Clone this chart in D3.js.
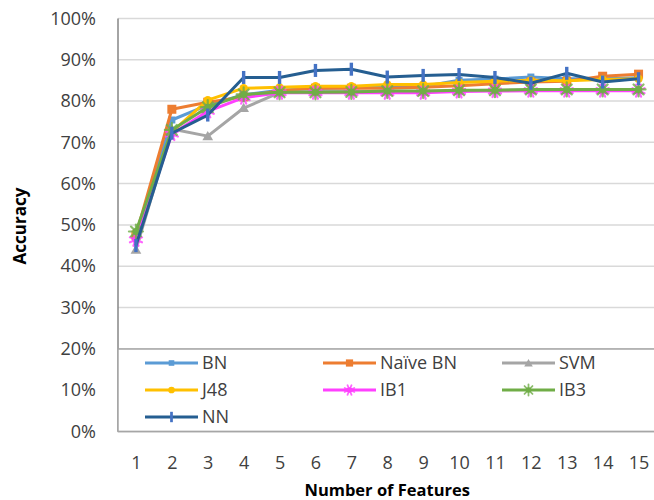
<!DOCTYPE html>
<html><head><meta charset="utf-8">
<script src="https://cdn.jsdelivr.net/npm/d3@7"></script>
<style>
body{margin:0;background:#fff;}
svg{display:block;font-family:"Open Sans",Lato,sans-serif;}
</style></head>
<body><svg id="c" width="654" height="500"></svg>
<script>
const features = [1,2,3,4,5,6,7,8,9,10,11,12,13,14,15];
const yTicks = [0,0.1,0.2,0.3,0.4,0.5,0.6,0.7,0.8,0.9,1.0];
const seriesNames = ["BN","Naïve BN","SVM","J48","IB1","IB3","NN"];
const BN    = [47.0,75.4,79.0,81.5,82.6,83.0,83.2,83.3,83.5,85.0,85.3,85.8,85.4,85.4,85.6];
const NaiveBN=[47.5,78.0,79.7,81.0,82.5,83.1,83.1,83.1,83.3,83.7,84.2,84.6,84.8,86.0,86.5];
const SVM   = [44.0,73.2,71.5,78.3,82.0,82.3,82.3,82.3,82.3,82.5,82.6,82.7,82.7,82.7,82.7];
const J48   = [48.0,72.5,80.2,83.1,83.3,83.6,83.6,84.0,84.0,84.5,84.8,85.0,84.9,85.2,85.4];
const IB1   = [46.4,72.0,77.5,80.8,82.0,82.0,82.0,82.0,82.0,82.3,82.4,82.5,82.5,82.5,82.5];
const IB3   = [48.4,73.0,78.5,81.6,82.1,82.1,82.2,82.4,82.4,82.6,82.6,82.8,82.8,82.8,82.8];
const NN    = [45.0,72.2,76.6,85.7,85.7,87.4,87.7,85.8,86.2,86.4,85.7,84.3,86.7,84.6,85.4];
const values = [BN,NaiveBN,SVM,J48,IB1,IB3,NN];
const colors = ["#5B9BD5","#ED7D31","#A5A5A5","#FFC000","#FF40FF","#70AD47","#255E91"];
const markerColors = ["#5B9BD5","#ED7D31","#A5A5A5","#FFC000","#FF40FF","#70AD47","#4472C4"];
const markers = ["sq","bigsq","tri","dia","x","star","bar"];

const svg = d3.select("#c");
const L=118, R=656.5, T=18.4, B=431.4;
const x = d3.scalePoint().domain(features).range([L,R]).padding(0.5);
const y = d3.scaleLinear().domain([0,1]).range([B,T]);

svg.append("g").selectAll("line").data(yTicks.filter(d=>d>0)).join("line")
  .attr("x1",L).attr("x2",R).attr("y1",d=>y(d)).attr("y2",d=>y(d))
  .attr("stroke","#D9D9D9").attr("stroke-width",1.5);

const ya = svg.append("g").attr("transform",`translate(${L-22},0)`)
  .call(d3.axisLeft(y).tickValues(yTicks).tickFormat(d3.format(".0%")).tickSize(0).tickPadding(0));
ya.select(".domain").remove();
ya.selectAll("text").attr("font-size",18).attr("fill","#404040").attr("font-family","'Open Sans',sans-serif");

const xa = svg.append("g").attr("transform",`translate(0,${B})`)
  .call(d3.axisBottom(x).tickSize(0).tickPadding(25));
xa.select(".domain").remove();
xa.selectAll("text").attr("font-size",18).attr("fill","#404040").attr("font-family","'Open Sans',sans-serif");

svg.append("line").attr("x1",L).attr("x2",L).attr("y1",T).attr("y2",B).attr("stroke","#868686").attr("stroke-width",1.5);
svg.append("line").attr("x1",L).attr("x2",R).attr("y1",B).attr("y2",B).attr("stroke","#868686").attr("stroke-width",1.5);

function drawMarker(g, type, cx, cy, col, scale){
  const s = scale||1;
  if(type==="sq"){g.append("rect").attr("x",cx-3.5*s).attr("y",cy-3.5*s).attr("width",7*s).attr("height",7*s).attr("fill",col);}
  else if(type==="bigsq"){g.append("rect").attr("x",cx-4.5*s).attr("y",cy-4.5*s).attr("width",9*s).attr("height",9*s).attr("fill",col);}
  else if(type==="tri"){g.append("path").attr("d",d3.symbol(d3.symbolTriangle, 50*s*s)()).attr("transform",`translate(${cx},${cy+1})`).attr("fill",col);}
  else if(type==="dia"){g.append("path").attr("d",d3.symbol(d3.symbolCircle, 55*s*s)()).attr("transform",`translate(${cx},${cy})`).attr("fill",col);}
  else if(type==="x"||type==="star"){
    const r = (type==="star"?7:6.5)*s;
    const n = 8;
    for(let k=0;k<n;k++){
      const a = Math.PI*k/n*2 + (type==="x"?Math.PI/8:0);
      g.append("line").attr("x1",cx).attr("y1",cy).attr("x2",cx+r*Math.cos(a)).attr("y2",cy+r*Math.sin(a))
       .attr("stroke",col).attr("stroke-width",2.2*s).attr("stroke-linecap","round").attr("opacity",0.8);
    }
    g.append("circle").attr("cx",cx).attr("cy",cy).attr("r",3.5*s).attr("fill",col);
  }
  else if(type==="bar"){g.append("rect").attr("x",cx-1.7*s).attr("y",cy-6.5*s).attr("width",3.4*s).attr("height",13*s).attr("fill",col);}
}

const line = d3.line().x((d,i)=>x(features[i])).y(d=>y(d/100));
seriesNames.forEach((name,si)=>{
  const g = svg.append("g");
  g.append("path").datum(values[si]).attr("d",line).attr("fill","none")
   .attr("stroke",colors[si]).attr("stroke-width",3).attr("stroke-linejoin","round");
  values[si].forEach((v,i)=>drawMarker(g, markers[si], x(features[i]), y(v/100), markerColors[si], 1));
});

const lg = svg.append("g");
lg.append("rect").attr("x",L).attr("y",349).attr("width",560).attr("height",B-349)
  .attr("fill","#fff").attr("stroke","#A6A6A6").attr("stroke-width",1.5);
const colX=[145,323,502], rowY=[363,390,417];
seriesNames.forEach((name,si)=>{
  const cx = colX[si%3], cy=rowY[Math.floor(si/3)];
  lg.append("line").attr("x1",cx).attr("x2",cx+53).attr("y1",cy).attr("y2",cy)
    .attr("stroke",colors[si]).attr("stroke-width",3);
  drawMarker(lg, markers[si], cx+26.5, cy, markerColors[si], 0.8);
  lg.append("text").attr("x",cx+57).attr("y",cy).attr("dy","0.35em")
    .attr("font-size",18).attr("fill","#404040").text(name);
});

svg.append("text").attr("x",x(8)).attr("y",490).attr("dy","0.35em").attr("text-anchor","middle")
  .attr("font-size",16.5).attr("font-weight","bold").attr("fill","#000").text("Number of Features");
svg.append("text").attr("transform","translate(20,226) rotate(-90)").attr("dy","0.35em").attr("text-anchor","middle")
  .attr("font-size",17).attr("font-weight","bold").attr("fill","#000").text("Accuracy");
</script></body></html>
